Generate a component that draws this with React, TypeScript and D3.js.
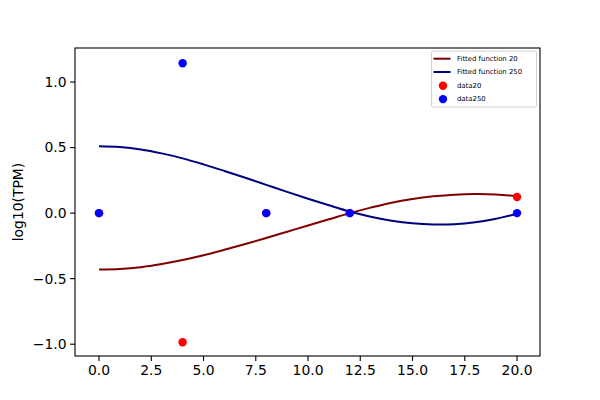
import React, { useEffect } from 'react';
import * as d3 from 'd3';

// sample times (x) of the observations
const sampleX = [0, 4, 8, 12, 20];
const data20 = [0, -0.985, 0, 0, 0.123];
const data250 = [0, 1.144, 0, 0, 0];

const fitX = [0, 1, 2, 3, 4, 5, 6, 7, 8, 9, 10, 11, 12, 13, 14, 15, 16, 17, 18, 19, 20];
const fit20 = [-0.43, -0.426, -0.412, -0.388, -0.358, -0.322, -0.28, -0.236, -0.19, -0.142, -0.094, -0.047, 0.0, 0.042, 0.08, 0.108, 0.128, 0.141, 0.146, 0.143, 0.13];
const fit250 = [0.51, 0.504, 0.486, 0.456, 0.418, 0.372, 0.322, 0.27, 0.216, 0.162, 0.11, 0.06, 0.012, -0.028, -0.058, -0.078, -0.087, -0.085, -0.07, -0.043, -0.005];

const xTicks = [0, 2.5, 5, 7.5, 10, 12.5, 15, 17.5, 20];
const yTicks = [-1, -0.5, 0, 0.5, 1];

const legendItems = [
  { label: 'Fitted function 20', kind: 'line', color: '#800000' },
  { label: 'Fitted function 250', kind: 'line', color: '#000080' },
  { label: 'data20', kind: 'dot', color: '#ff0000' },
  { label: 'data250', kind: 'dot', color: '#0000ff' },
];

const W = 600;
const H = 400;
const m = { left: 75, right: 540, top: 48, bottom: 356 };
const font = '"DejaVu Sans", sans-serif';

const fmt = (v: number) => v.toFixed(1).replace('-', '\u2212');

export default function App() {
  useEffect(() => {
    document.body.style.margin = '0';
  }, []);

  const x = d3.scaleLinear().domain([-1.15, 21.1]).range([m.left, m.right]);
  const y = d3.scaleLinear().domain([-1.09, 1.26]).range([m.bottom, m.top]);

  const line = d3.line<number>()
    .x((_, i) => x(fitX[i]))
    .y(d => y(d))
    .curve(d3.curveCatmullRom);

  const r = 4.2;

  return (
    <svg width={W} height={H} style={{ display: 'block', background: '#fff' }} fontFamily={font}>
      <path d={line(fit20) || ''} fill="none" stroke="#800000" strokeWidth={2} />
      <path d={line(fit250) || ''} fill="none" stroke="#000080" strokeWidth={2} />
      {data20.map((v, i) => (
        <circle key={'r' + i} cx={x(sampleX[i])} cy={y(v)} r={r} fill="#ff0000" />
      ))}
      {data250.map((v, i) => (
        <circle key={'b' + i} cx={x(sampleX[i])} cy={y(v)} r={r} fill="#0000ff" />
      ))}

      {/* axes frame */}
      <rect x={m.left} y={m.top} width={m.right - m.left} height={m.bottom - m.top}
        fill="none" stroke="#000" strokeWidth={1.1} />

      {xTicks.map(t => (
        <g key={'x' + t} transform={`translate(${x(t)},${m.bottom})`}>
          <line y2={4.9} stroke="#000" strokeWidth={1.1} />
          <text y={19} textAnchor="middle" fontSize={13.9} fill="#000">{fmt(t)}</text>
        </g>
      ))}
      {yTicks.map(t => (
        <g key={'y' + t} transform={`translate(${m.left},${y(t)})`}>
          <line x2={-4.9} stroke="#000" strokeWidth={1.1} />
          <text x={-8.5} dy="0.35em" textAnchor="end" fontSize={13.9} fill="#000">{fmt(t)}</text>
        </g>
      ))}
      <text transform={`translate(23,${(m.top + m.bottom) / 2}) rotate(-90)`} textAnchor="middle"
        fontSize={13.9} fill="#000">log10(TPM)</text>

      {/* legend */}
      <g>
        <rect x={431.5} y={51} width={105} height={56} rx={2} fill="#fff" fillOpacity={0.8}
          stroke="#d0d0d0" strokeWidth={1} />
        {legendItems.map((d, i) => {
          const cy = 58.7 + i * 13.3;
          return (
            <g key={d.label}>
              {d.kind === 'line'
                ? <line x1={433.5} x2={450.5} y1={cy} y2={cy} stroke={d.color} strokeWidth={2} />
                : <circle cx={443} cy={cy + 0.5} r={4.2} fill={d.color} />}
              <text x={457} y={cy} dy="0.35em" fontSize={6.9} fill="#000">{d.label}</text>
            </g>
          );
        })}
      </g>
    </svg>
  );
}
